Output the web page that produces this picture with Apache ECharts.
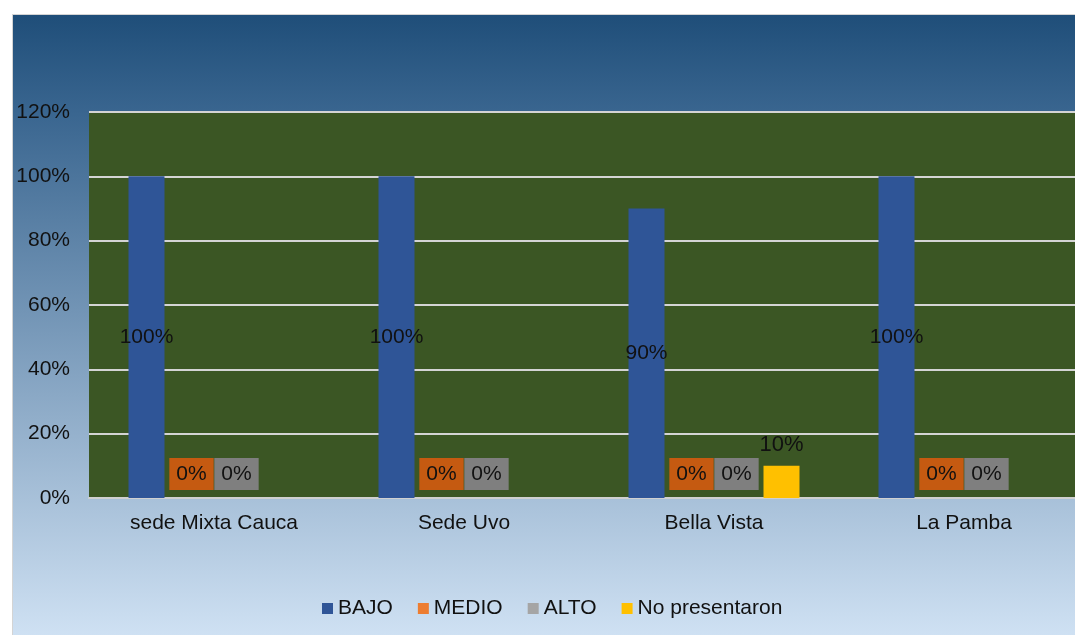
<!DOCTYPE html>
<html>
<head>
<meta charset="utf-8">
<script src="https://cdn.jsdelivr.net/npm/echarts@6/dist/echarts.min.js"></script>
<style>
html,body{margin:0;padding:0;background:#fff;width:1075px;height:635px;overflow:hidden;}
#wrap{position:absolute;left:12px;top:14px;width:1063px;height:621px;overflow:hidden;border-left:1px solid #d4d4d4;border-top:1px solid #d4d4d4;
background:linear-gradient(to bottom,#1f4e79 0%,#3a6690 16%,#cfe1f3 100%);}
#chart{width:1100px;height:621px;}
</style>
</head>
<body>
<div id="wrap"><div id="chart"></div></div>
<script>
const categories = ['sede Mixta Cauca', 'Sede Uvo', 'Bella Vista', 'La Pamba'];
const bajo = [100, 100, 90, 100];
const medio = [0, 0, 0, 0];
const alto = [0, 0, 0, 0];
const noPresentaron = [null, null, 10, null];
const yTicks = { min: 0, max: 120, interval: 20 };

const font = 'Liberation Sans, Arial, sans-serif';
const chart = echarts.init(document.getElementById('chart'));
const zeroLabel = (bg) => ({
  show: true, position: 'insideBottom', distance: 8, formatter: '{c}%',
  color: '#111', fontSize: 21, fontFamily: font, backgroundColor: bg,
  padding: [6, 7, 5, 7]
});
chart.setOption({
  animation: false,
  backgroundColor: 'transparent',
  textStyle: { fontFamily: font },
  grid: { left: 76, width: 1000, top: 97, bottom: 138, show: true, backgroundColor: '#3b5624', borderWidth: 0 },
  legend: {
    left: 304, top: 578, itemWidth: 11, itemHeight: 11, itemGap: 25, icon: 'rect',
    textStyle: { fontSize: 21, color: '#111', fontFamily: font },
    data: ['BAJO', 'MEDIO', 'ALTO', 'No presentaron']
  },
  xAxis: {
    type: 'category', data: categories,
    axisTick: { show: false },
    axisLine: { lineStyle: { color: '#d0d0d0', width: 2 } },
    axisLabel: { color: '#111', fontSize: 21, margin: 15, fontFamily: font }
  },
  yAxis: {
    type: 'value', min: yTicks.min, max: yTicks.max, interval: yTicks.interval,
    axisLine: { show: false }, axisTick: { show: false },
    axisLabel: { formatter: '{value}%', color: '#111', fontSize: 21, margin: 19, fontFamily: font },
    splitLine: { lineStyle: { color: '#d4d4d4', width: 2 } }
  },
  series: [
    { name: 'BAJO', type: 'bar', data: bajo, barWidth: 36, barGap: '25%',
      itemStyle: { color: '#2f5597' },
      label: { show: true, position: 'inside', formatter: '{c}%', color: '#111', fontSize: 21, fontFamily: font } },
    { name: 'MEDIO', type: 'bar', data: medio, barWidth: 36, barGap: '25%',
      itemStyle: { color: '#ed7d31' }, label: zeroLabel('#c55a11') },
    { name: 'ALTO', type: 'bar', data: alto, barWidth: 36, barGap: '25%',
      itemStyle: { color: '#a5a5a5' }, label: zeroLabel('#7f7f7f') },
    { name: 'No presentaron', type: 'bar', data: noPresentaron, barWidth: 36, barGap: '25%',
      itemStyle: { color: '#ffc000' },
      label: { show: true, position: 'top', distance: 10, formatter: '{c}%', color: '#111', fontSize: 22, fontFamily: font } }
  ]
});
</script>
</body>
</html>
